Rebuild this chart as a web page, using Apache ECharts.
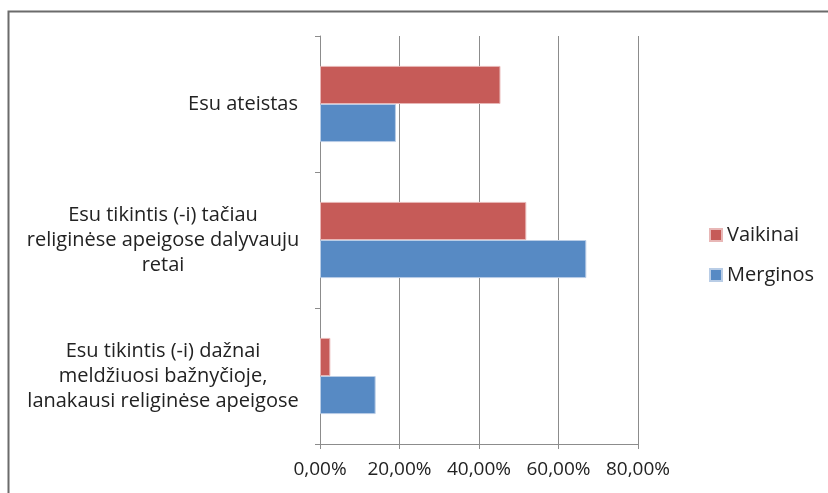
<!DOCTYPE html>
<html>
<head>
<meta charset="utf-8">
<script src="https://cdn.jsdelivr.net/npm/echarts@6/dist/echarts.min.js"></script>
<style>
  html, body { margin: 0; padding: 0; background: #fff; }
  #chart { width: 828px; height: 493px; }
</style>
</head>
<body>
<div id="chart"></div>
<script>
// categories bottom -> top (category axis runs upward)
const categories = [
  'Esu tikintis (-i) dažnai\nmeldžiuosi bažnyčioje,\nlanakausi religinėse apeigose',
  'Esu tikintis (-i) tačiau\nreliginėse apeigose dalyvauju\nretai',
  'Esu ateistas'
]
const vaikinai = [2.6, 51.9, 45.4]
const merginos = [14.0, 67.0, 19.1]
const xTicks = { min: 0, max: 80, interval: 20 }

const FONT = 'Open Sans'
const chart = echarts.init(document.getElementById('chart'))

function yLabel(val) {
  if (val.indexOf('\n') < 0) return val
  return val.split('\n').map(l => '{c|' + l + '}').join('\n')
}

chart.setOption({
  animation: false,
  textStyle: { fontFamily: FONT },
  graphic: [{
    type: 'rect',
    shape: { x: 8.5, y: 11.5, width: 900, height: 600 },
    style: { fill: 'none', stroke: '#6b6b6b', lineWidth: 2 },
    silent: true
  }],
  grid: { left: 320, top: 36, width: 318, height: 408 },
  legend: {
    orient: 'vertical',
    left: 709,
    top: 225,
    padding: 0,
    itemWidth: 12,
    itemHeight: 12,
    itemGap: 20,
    icon: 'rect',
    data: ['Vaikinai', 'Merginos'],
    textStyle: { fontFamily: FONT, fontSize: 20, lineHeight: 20, color: '#222' }
  },
  xAxis: {
    type: 'value',
    min: xTicks.min,
    max: xTicks.max,
    interval: xTicks.interval,
    axisLine: { show: true, lineStyle: { color: '#8c8c8c' } },
    axisTick: { show: true, length: 5, lineStyle: { color: '#8c8c8c' } },
    splitLine: { show: true, lineStyle: { color: '#8c8c8c' } },
    axisLabel: {
      margin: 16,
      fontFamily: FONT,
      fontSize: 19,
      color: '#222',
      formatter: v => v.toFixed(2).replace('.', ',') + '%'
    }
  },
  yAxis: {
    type: 'category',
    data: categories,
    axisLine: { show: true, lineStyle: { color: '#8c8c8c' } },
    axisTick: { show: true, length: 5, lineStyle: { color: '#8c8c8c' } },
    axisLabel: {
      margin: 22,
      fontFamily: FONT,
      fontSize: 20,
      lineHeight: 25,
      color: '#222',
      formatter: yLabel,
      rich: {
        c: { width: 270, align: 'center', fontFamily: FONT, fontSize: 20, lineHeight: 25, color: '#222' }
      }
    }
  },
  series: [{
    name: 'Vaikinai',
    type: 'bar',
    data: vaikinai,
    barGap: '0%',
    barCategoryGap: '44%',
    itemStyle: { color: '#C65B58', borderColor: '#e8b7b6', borderWidth: 1 }
  }, {
    name: 'Merginos',
    type: 'bar',
    data: merginos,
    barGap: '0%',
    barCategoryGap: '44%',
    itemStyle: { color: '#578AC4', borderColor: '#b9cde6', borderWidth: 1 }
  }]
})
</script>
</body>
</html>
